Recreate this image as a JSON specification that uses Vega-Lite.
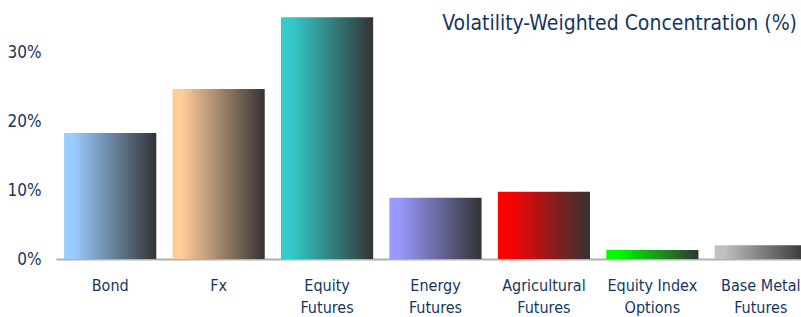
{
  "$schema": "https://vega.github.io/schema/vega-lite/v6.json",
  "autosize": "none",
  "width": 759,
  "height": 241,
  "padding": {"left": 56, "top": 18, "right": 0, "bottom": 58},
  "background": "white",
  "config": {"view": {"stroke": null}, "font": "DejaVu Sans Condensed"},
  "title": {"text": "Volatility-Weighted Concentration (%)", "anchor": "end", "frame": "group", "dx": -18, "dy": 17, "offset": 0, "fontSize": 21, "fontWeight": "normal", "color": "#15365f", "font": "DejaVu Sans Condensed"},
  "data": {"values": [
    {"cat": "Bond", "v": 0.183},
    {"cat": "Fx", "v": 0.247},
    {"cat": "Equity Futures", "v": 0.351},
    {"cat": "Energy Futures", "v": 0.089},
    {"cat": "Agricultural Futures", "v": 0.0975},
    {"cat": "Equity Index Options", "v": 0.013},
    {"cat": "Base Metal Futures", "v": 0.020}
  ]},
  "encoding": {
    "x": {"field": "cat", "type": "nominal", "title": null,
      "scale": {"domain": ["Bond", "Fx", "Equity Futures", "Energy Futures", "Agricultural Futures", "Equity Index Options", "Base Metal Futures"], "paddingInner": 0.15, "paddingOuter": 0.075},
      "axis": {"labelAngle": 0, "ticks": false, "domainColor": "#b0b0b0", "domainWidth": 2, "labelPadding": 18, "labelFontSize": 16, "labelColor": "#15365f", "labelExpr": "datum.label == 'Equity Index Options' ? ['Equity Index', 'Options'] : datum.label == 'Base Metal Futures' ? ['Base Metal', 'Futures'] : split(datum.label, ' ')", "labelLineHeight": 22, "labelBaseline": "top"}},
    "y": {"field": "v", "type": "quantitative", "title": null,
      "scale": {"domain": [0, 0.35], "nice": false},
      "axis": {"values": [0, 0.1, 0.2, 0.3], "format": ".0%", "grid": false, "ticks": false, "domain": false, "labelPadding": 15, "labelFontSize": 17, "labelColor": "#15365f"}}
  },
  "layer": [
    {"transform": [{"filter": "datum.cat == 'Bond'"}], "mark": {"type": "bar", "color": {"gradient": "linear", "x1": 0, "x2": 1, "y1": 0, "y2": 0, "stops": [{"offset": 0, "color": "#99ccff"}, {"offset": 0.1, "color": "#99ccff"}, {"offset": 1, "color": "#333333"}]}}},
    {"transform": [{"filter": "datum.cat == 'Fx'"}], "mark": {"type": "bar", "color": {"gradient": "linear", "x1": 0, "x2": 1, "y1": 0, "y2": 0, "stops": [{"offset": 0, "color": "#ffcc99"}, {"offset": 0.1, "color": "#ffcc99"}, {"offset": 1, "color": "#333333"}]}}},
    {"transform": [{"filter": "datum.cat == 'Equity Futures'"}], "mark": {"type": "bar", "color": {"gradient": "linear", "x1": 0, "x2": 1, "y1": 0, "y2": 0, "stops": [{"offset": 0, "color": "#33cccc"}, {"offset": 0.1, "color": "#33cccc"}, {"offset": 1, "color": "#333333"}]}}},
    {"transform": [{"filter": "datum.cat == 'Energy Futures'"}], "mark": {"type": "bar", "color": {"gradient": "linear", "x1": 0, "x2": 1, "y1": 0, "y2": 0, "stops": [{"offset": 0, "color": "#9999ff"}, {"offset": 0.1, "color": "#9999ff"}, {"offset": 1, "color": "#333333"}]}}},
    {"transform": [{"filter": "datum.cat == 'Agricultural Futures'"}], "mark": {"type": "bar", "color": {"gradient": "linear", "x1": 0, "x2": 1, "y1": 0, "y2": 0, "stops": [{"offset": 0, "color": "#ff0000"}, {"offset": 0.1, "color": "#ff0000"}, {"offset": 1, "color": "#333333"}]}}},
    {"transform": [{"filter": "datum.cat == 'Equity Index Options'"}], "mark": {"type": "bar", "color": {"gradient": "linear", "x1": 0, "x2": 1, "y1": 0, "y2": 0, "stops": [{"offset": 0, "color": "#00ff00"}, {"offset": 0.1, "color": "#00ff00"}, {"offset": 1, "color": "#333333"}]}}},
    {"transform": [{"filter": "datum.cat == 'Base Metal Futures'"}], "mark": {"type": "bar", "color": {"gradient": "linear", "x1": 0, "x2": 1, "y1": 0, "y2": 0, "stops": [{"offset": 0, "color": "#c0c0c0"}, {"offset": 0.1, "color": "#c0c0c0"}, {"offset": 1, "color": "#333333"}]}}}
  ]
}
